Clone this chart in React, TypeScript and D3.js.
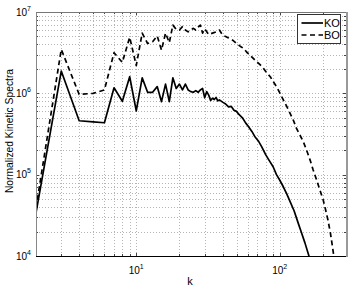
import React from 'react';
import * as d3 from 'd3';

// wavenumbers and spectra
const koK = [2, 3, 4, 5, 6, 7, 8, 9, 10, 11, 12, 13, 14, 15, 16, 17, 18, 19, 20, 21, 22, 23, 24, 25, 26, 27, 28, 29, 30, 31, 32, 33, 34, 35, 36, 37, 38, 40, 42, 44, 46, 48, 50, 52, 55, 58, 60, 64, 67, 71, 75, 77, 80, 84, 90, 95, 100, 106, 112, 118, 126, 135, 141, 150, 160, 166];
const koV = [3.4e4, 1.88e6, 4.6e5, 4.45e5, 4.35e5, 1.17e6, 8.0e5, 1.6e6, 6.1e5, 1.55e6, 1.03e6, 1.03e6, 1.21e6, 7.9e5, 1.3e6, 7.9e5, 1.55e6, 1.15e6, 1.3e6, 1.1e6, 1.3e6, 1.1e6, 1.05e6, 1.03e6, 1.08e6, 1.03e6, 1.1e6, 1.15e6, 8.8e5, 1.05e6, 9.5e5, 8.2e5, 8.7e5, 8.4e5, 8.9e5, 8.1e5, 8.3e5, 7.8e5, 7.4e5, 6.8e5, 6.9e5, 6.2e5, 6.0e5, 5.5e5, 5.0e5, 4.3e5, 4.0e5, 3.4e5, 2.95e5, 2.6e5, 2.2e5, 2.0e5, 1.75e5, 1.52e5, 1.25e5, 1.0e5, 8.6e4, 7.1e4, 5.8e4, 4.7e4, 3.6e4, 2.5e4, 2.0e4, 1.45e4, 1.0e4, 8.0e3];

const boK = [2, 3, 4, 5, 6, 7, 8, 9, 10, 11, 12, 13, 14, 15, 16, 17, 18, 19, 20, 21, 22, 23, 24, 25, 26, 27, 28, 29, 30, 32, 34, 36, 38, 40, 42, 44, 47, 50, 53, 56, 59, 62, 66, 69, 73, 77, 81, 86, 90, 95, 100, 106, 112, 118, 125, 131, 138, 146, 154, 163, 171, 181, 190, 201, 209, 217, 226, 237, 245];
const boV = [3.9e4, 3.47e6, 9.7e5, 1.0e6, 1.1e6, 3.16e6, 2.4e6, 4.9e6, 2.2e6, 5.5e6, 4.1e6, 4.3e6, 5.07e6, 3.4e6, 5.5e6, 4.2e6, 6.9e6, 6.1e6, 6.0e6, 6.6e6, 6.0e6, 5.7e6, 6.0e6, 6.3e6, 6.0e6, 6.5e6, 6.9e6, 5.5e6, 6.2e6, 5.3e6, 5.5e6, 5.7e6, 6.0e6, 5.2e6, 5.0e6, 4.8e6, 4.5e6, 4.1e6, 3.8e6, 3.57e6, 3.2e6, 2.96e6, 2.65e6, 2.45e6, 2.25e6, 2.03e6, 1.8e6, 1.6e6, 1.4e6, 1.21e6, 1.02e6, 8.3e5, 6.9e5, 5.7e5, 4.6e5, 3.7e5, 3.1e5, 2.55e5, 2.0e5, 1.51e5, 1.15e5, 8.6e4, 6.6e4, 4.9e4, 3.7e4, 2.77e4, 1.9e4, 1.08e4, 7.0e3];

const xTicks = [10, 100];
const xTickExp = ['1', '2'];
const yTicks = [1e4, 1e5, 1e6, 1e7];
const yTickExp = ['4', '5', '6', '7'];
const seriesNames = ['KO', 'BO'];

const font = '"Liberation Sans", Arial, Helvetica, sans-serif';

const App = () => {
    const left = 36, right = 346, top = 12, bottom = 256;
    const x = d3.scaleLog().domain([2, 290]).range([left, right]);
    const y = d3.scaleLog().domain([1e4, 1e7]).range([bottom, top]);

    const line = d3.line<[number, number]>()
        .x(d => x(d[0]))
        .y(d => y(d[1]));

    const ko = koK.map((k, i) => [k, koV[i]] as [number, number]);
    const bo = boK.map((k, i) => [k, boV[i]] as [number, number]);

    // minor + major grid positions
    const xGrid: number[] = [];
    for (const dec of [1, 10, 100]) for (let m = 1; m <= 9; m++) {
        const v = m * dec;
        if (v > 2 && v < 290) xGrid.push(v);
    }
    const yGrid: number[] = [];
    for (const dec of [1e4, 1e5, 1e6]) for (let m = 1; m <= 9; m++) {
        const v = m * dec;
        if (v > 1e4 && v < 1e7) yGrid.push(v);
    }

    return (
        <svg width={352} height={288} style={{position: 'absolute', left: 0, top: 0, background: '#fff'}}>
            <defs>
                <clipPath id="plot">
                    <rect x={left} y={top} width={right - left} height={bottom - top} />
                </clipPath>
            </defs>
            <rect x={0} y={0} width={352} height={288} fill="#fff" />

            <g stroke="#b4b4b4" strokeWidth={1} strokeDasharray="1,2">
                {xGrid.map(v => (
                    <line key={'gx' + v} x1={Math.round(x(v)) + 0.5} x2={Math.round(x(v)) + 0.5} y1={top} y2={bottom} />
                ))}
                {yGrid.map(v => (
                    <line key={'gy' + v} x1={left} x2={right} y1={Math.round(y(v)) + 0.5} y2={Math.round(y(v)) + 0.5} />
                ))}
            </g>

            {/* ticks inside the box */}
            <g stroke="#444" strokeWidth={1}>
                {xGrid.map(v => {
                    const len = (v === 10 || v === 100) ? 3 : 2;
                    const px = Math.round(x(v)) + 0.5;
                    return (
                        <g key={'tx' + v}>
                            <line x1={px} x2={px} y1={bottom} y2={bottom - len} />
                            <line x1={px} x2={px} y1={top} y2={top + len} />
                        </g>
                    );
                })}
                {yGrid.map(v => {
                    const major = yTicks.includes(v);
                    const len = major ? 3 : 2;
                    const py = Math.round(y(v)) + 0.5;
                    return (
                        <g key={'ty' + v}>
                            <line x1={left} x2={left + len} y1={py} y2={py} />
                            <line x1={right} x2={right - len} y1={py} y2={py} />
                        </g>
                    );
                })}
            </g>

            <g clipPath="url(#plot)" fill="none" stroke="#000" strokeLinejoin="round">
                <path d={line(ko) ?? ''} strokeWidth={1.7} />
                <path d={line(bo) ?? ''} strokeWidth={1.7} strokeDasharray="5,3.5" />
            </g>

            {/* axes box */}
            <line x1={left + 0.5} x2={left + 0.5} y1={top} y2={bottom} stroke="#888" strokeWidth={1} />
            <line x1={left} x2={right} y1={top + 0.5} y2={top + 0.5} stroke="#777" strokeWidth={1} />
            <line x1={right + 1} x2={right + 1} y1={top} y2={bottom + 1} stroke="#999" strokeWidth={2} />
            <line x1={left} x2={right} y1={bottom + 0.5} y2={bottom + 0.5} stroke="#000" strokeWidth={1} />

            {/* tick labels */}
            <g fontFamily={font} fontSize={10} fill="#000">
                {xTicks.map((v, i) => (
                    <text key={'lx' + v} x={x(v)} y={273.5} textAnchor="middle">
                        10<tspan fontSize={7} dy={-5}>{xTickExp[i]}</tspan>
                    </text>
                ))}
                {yTicks.map((v, i) => (
                    <text key={'ly' + v} x={31} y={y(v) + 3.5} textAnchor="end">
                        10<tspan fontSize={7} dy={-5}>{yTickExp[i]}</tspan>
                    </text>
                ))}
            </g>

            <text x={190} y={284.5} fontFamily={font} fontSize={11} textAnchor="middle">k</text>
            <text transform="translate(12.5,131) rotate(-90)" fontFamily={font} fontSize={10.3} textAnchor="middle">
                Normalized Kinetic Spectra
            </text>

            {/* legend */}
            <g fontFamily={font} fontSize={11}>
                <rect x={297.5} y={14.5} width={43} height={29} fill="#fff" stroke="#333" strokeWidth={1} />
                {seriesNames.map((name, i) => (
                    <g key={name}>
                        <line x1={301.5} x2={323} y1={23 + i * 12} y2={23 + i * 12} stroke="#000" strokeWidth={1.7}
                              strokeDasharray={i === 1 ? '5,3.5' : undefined} />
                        <text x={324} y={27 + i * 12}>{name}</text>
                    </g>
                ))}
            </g>
        </svg>
    );
};

export default App;
